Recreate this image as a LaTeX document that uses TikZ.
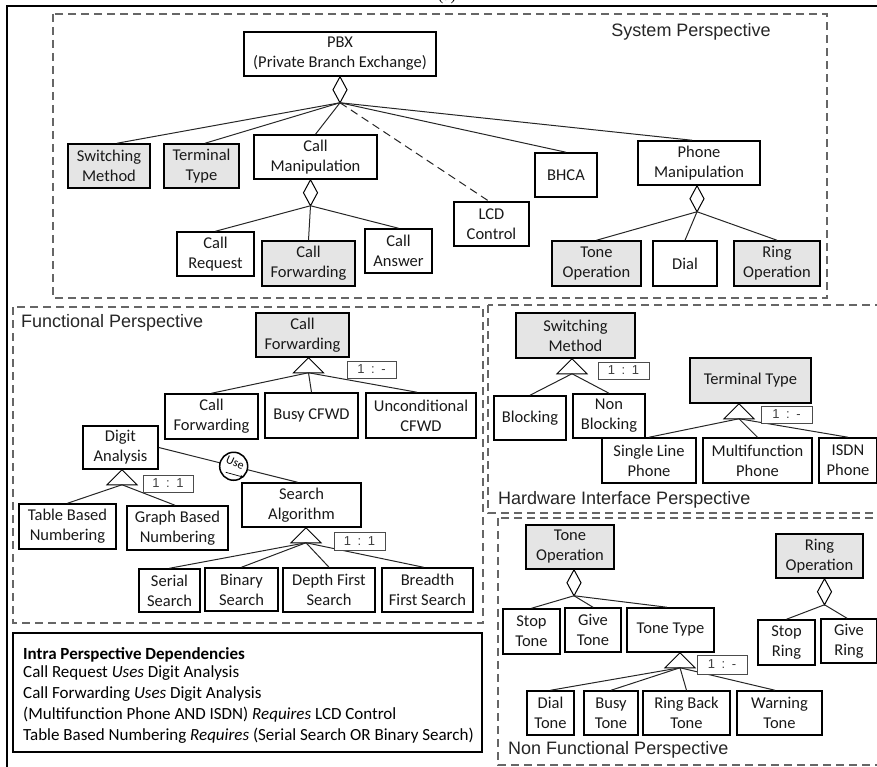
\documentclass[tikz,border=0pt]{standalone}
\usepackage{fontspec}
\newfontfamily\boxfont{Carlito}
\newfontfamily\headfont{Liberation Sans}
\newfontfamily\capfont{Liberation Serif}
\usetikzlibrary{arrows.meta,calc}

\tikzset{
  feat/.style={draw=black, line width=1.5pt, fill=white, align=center, inner sep=0pt,
    font=\boxfont\fontsize{16.5}{20}\selectfont, text=black!90},
  grayfeat/.style={feat, fill=black!10},
  link/.style={draw=black!85, line width=1pt},
  optlink/.style={link, dash pattern=on 8pt off 5pt},
  persp/.style={draw=black!60, line width=1.3pt, dash pattern=on 8pt off 5pt},
  perspname/.style={font=\headfont\fontsize{18}{20}\selectfont, text=black!85, inner sep=0pt},
  card/.style={draw=black!70, line width=1pt, fill=white, inner sep=0pt,
    font=\headfont\fontsize{13}{15}\selectfont, text=black!75},
  deptext/.style={font=\boxfont\fontsize{17}{20}\selectfont, inner sep=0pt, anchor=base west},
  agg/.pic={\draw[line width=1pt, fill=white] (0,0) -- (7,13) -- (0,26) -- (-7,13) -- cycle;
    \coordinate (-b) at (0,26);},
  alt/.pic={\draw[line width=1pt, fill=white] (0,0) -- (15,15) -- (-15,15) -- cycle;
    \coordinate (-b) at (0,15);},
}
\newcommand{\cardtext}[1]{1\hspace{6.5pt}:\hspace{6.5pt}#1}

\begin{document}
\begin{tikzpicture}[x=1pt, y=-1pt]
\useasboundingbox (0,0) rectangle (877,767);

% outer frame and caption
\node[font=\capfont\fontsize{16}{18}\selectfont, anchor=base, inner sep=0pt] (caption) at (447,1) {(a)};
\draw[line width=2pt] (6.5,790) -- (6.5,6.5) -- (900,6.5);

% perspective frames
\draw[persp] (53,14) rectangle (827,298);
\draw[persp] (13,307) rectangle (483,623);
\draw[persp] (488,305) rectangle (900,513);
\draw[persp] (498,518) rectangle (900,765);

\node[perspname] (sysname) at (691,32) {System Perspective};
\node[perspname, anchor=west] (funname) at (21,323) {Functional Perspective};
\node[perspname, anchor=west] (hwname) at (498,500) {Hardware Interface Perspective};
\node[perspname, anchor=west] (nfname) at (508,750) {Non Functional Perspective};

% ---------------- System perspective ----------------
\node[feat, minimum width=192pt, minimum height=44pt] (pbx) at (340,54) {PBX\\(Private Branch Exchange)};
\node[grayfeat, minimum width=82pt, minimum height=44pt] (swm) at (109,166) {Switching\\Method};
\node[grayfeat, minimum width=75pt, minimum height=44pt] (term) at (201.5,166) {Terminal\\Type};
\node[feat, minimum width=123pt, minimum height=44pt] (callm) at (315.5,157) {Call\\Manipulation};
\node[feat, minimum width=75pt, minimum height=44pt] (lcd) at (491.5,224) {LCD\\Control};
\node[feat, minimum width=62pt, minimum height=44pt] (bhca) at (566,175) {BHCA};
\node[feat, minimum width=122pt, minimum height=44pt] (phonem) at (699,163) {Phone\\Manipulation};
\node[feat, minimum width=77pt, minimum height=44pt] (creq) at (215.5,254) {Call\\Request};
\node[grayfeat, minimum width=93pt, minimum height=45pt] (cfwd) at (308.5,263.5) {Call\\Forwarding};
\node[feat, minimum width=67pt, minimum height=44pt] (cans) at (398.5,251) {Call\\Answer};
\node[grayfeat, minimum width=89pt, minimum height=45pt] (toneop) at (596.5,263.5) {Tone\\Operation};
\node[feat, minimum width=64pt, minimum height=45pt] (dial) at (685,263.5) {Dial};
\node[grayfeat, minimum width=86pt, minimum height=45pt] (ringop) at (777,263.5) {Ring\\Operation};

\pic (pbxA) at (pbx.south) {agg};
\pic (callmA) at ([xshift=-5pt]callm.south) {agg};
\pic (phonemA) at ([xshift=-2pt]phonem.south) {agg};

\draw[link] (pbxA-b) -- ([xshift=8pt]swm.north);
\draw[link] (pbxA-b) -- ([xshift=3.5pt]term.north);
\draw[link] (pbxA-b) -- (callm.north);
\draw[optlink] (pbxA-b) -- ([xshift=-2.5pt]lcd.north);
\draw[link] (pbxA-b) -- (bhca.north);
\draw[link] (pbxA-b) -- ([xshift=-7pt]phonem.north);
\draw[link] (callmA-b) -- (creq.north);
\draw[link] (callmA-b) -- (cfwd.north);
\draw[link] (callmA-b) -- (cans.north);
\draw[link] (phonemA-b) -- (toneop.north);
\draw[link] (phonemA-b) -- (dial.north);
\draw[link] (phonemA-b) -- (ringop.north);

% ---------------- Functional perspective ----------------
\node[grayfeat, minimum width=93pt, minimum height=44pt] (fcf) at (302.5,335) {Call\\Forwarding};
\node[feat, minimum width=93pt, minimum height=45pt] (fcf2) at (211.5,416.5) {Call\\Forwarding};
\node[feat, minimum width=93pt, minimum height=45pt] (busy) at (311.5,415.5) {Busy CFWD};
\node[feat, minimum width=110pt, minimum height=45pt] (uncond) at (421,415.5) {Unconditional\\CFWD};
\node[feat, minimum width=75pt, minimum height=43pt] (digit) at (120.5,447.5) {Digit\\Analysis};
\node[feat, minimum width=97pt, minimum height=45pt] (table) at (67.5,526.5) {Table Based\\Numbering};
\node[feat, minimum width=101pt, minimum height=44pt] (graph) at (177.5,528) {Graph Based\\Numbering};
\node[feat, minimum width=119pt, minimum height=44pt] (search) at (301.5,505) {Search\\Algorithm};
\node[feat, minimum width=61pt, minimum height=43pt] (serial) at (169.5,590.5) {Serial\\Search};
\node[feat, minimum width=73pt, minimum height=43pt] (binary) at (241.5,589.5) {Binary\\Search};
\node[feat, minimum width=92pt, minimum height=44pt] (depth) at (329,590) {Depth First\\Search};
\node[feat, minimum width=91pt, minimum height=44pt] (breadth) at (427.5,590) {Breadth\\First Search};

\pic (fcfG) at ([xshift=6pt]fcf.south) {alt};
\pic (digitG) at ([xshift=1.5pt]digit.south) {alt};
\pic (searchG) at ([xshift=4.5pt]search.south) {alt};

\draw[link] (fcfG-b) -- (fcf2.north);
\draw[link] (fcfG-b) -- (busy.north);
\draw[link] (fcfG-b) -- ([xshift=-4pt]uncond.north);
\draw[link] (digitG-b) -- (table.north);
\draw[link] (digitG-b) -- ([xshift=-2.5pt]graph.north);
\draw[link] (searchG-b) -- (serial.north);
\draw[link] (searchG-b) -- (binary.north);
\draw[link] (searchG-b) -- (depth.north);
\draw[link] (searchG-b) -- ([xshift=-4pt]breadth.north);

% "Use" dependency between Digit Analysis and Search Algorithm
\draw[link] (digit.east) -- ([xshift=-4pt]search.north)
  node[pos=0.54, circle, draw=black, line width=1.5pt, fill=white, minimum size=28pt, inner sep=0pt] (usecirc) {};
\node[rotate=-24, inner sep=0pt, font=\boxfont\fontsize{12}{12}\selectfont] (usetext)
  at ([shift={(1.5,-3.5)}]usecirc.center) {Use};
\draw[line width=0.7pt, -{Stealth[length=3.5pt,width=3pt]}]
  ([shift={(-8,6)}]usecirc.center) -- ([shift={(10,11)}]usecirc.center);

\node[card, minimum width=49pt, minimum height=17pt] (card1) at (371.5,369.5) {\cardtext{-}};
\node[card, minimum width=50pt, minimum height=17pt] (card2) at (168,483.5) {\cardtext{1}};
\node[card, minimum width=51pt, minimum height=18pt] (card3) at (359.5,541) {\cardtext{1}};

% ---------------- Hardware interface perspective ----------------
\node[grayfeat, minimum width=119pt, minimum height=45pt] (hswm) at (575.5,335.5) {Switching\\Method};
\node[feat, minimum width=72pt, minimum height=44pt] (blocking) at (530,418) {Blocking};
\node[feat, minimum width=72pt, minimum height=44pt] (nonblock) at (609,416) {Non\\Blocking};
\node[grayfeat, minimum width=121pt, minimum height=45pt] (hterm) at (750.5,380.5) {Terminal Type};
\node[feat, minimum width=94pt, minimum height=45pt] (single) at (649,460.5) {Single Line\\Phone};
\node[feat, minimum width=109pt, minimum height=45pt] (multi) at (757.5,460.5) {Multifunction\\Phone};
\node[feat, minimum width=58pt, minimum height=45pt] (isdn) at (848,460.5) {ISDN\\Phone};

\pic (hswmG) at ([xshift=-3.5pt]hswm.south) {alt};
\pic (htermG) at ([xshift=-11.5pt]hterm.south) {alt};

\draw[link] (hswmG-b) -- (blocking.north);
\draw[link] (hswmG-b) -- (nonblock.north);
\draw[link] (htermG-b) -- (single.north);
\draw[link] (htermG-b) -- (multi.north);
\draw[link] (htermG-b) -- (isdn.north);

\node[card, minimum width=51pt, minimum height=17pt] (card4) at (623.5,370.5) {\cardtext{1}};
\node[card, minimum width=51pt, minimum height=17pt] (card5) at (786.5,414.5) {\cardtext{-}};

% ---------------- Non functional perspective ----------------
\node[grayfeat, minimum width=88pt, minimum height=44pt] (toneop2) at (570,547) {Tone\\Operation};
\node[feat, minimum width=57pt, minimum height=45pt] (stoptone) at (531.5,631.5) {Stop\\Tone};
\node[feat, minimum width=56pt, minimum height=44pt] (givetone) at (593,630) {Give\\Tone};
\node[feat, minimum width=87pt, minimum height=44pt] (tonetype) at (670.5,630) {Tone Type};
\node[feat, minimum width=47pt, minimum height=44pt] (dialtone) at (550.5,713) {Dial\\Tone};
\node[feat, minimum width=54pt, minimum height=44pt] (busytone) at (611,713) {Busy\\Tone};
\node[feat, minimum width=87pt, minimum height=44pt] (ringback) at (686.5,713) {Ring Back\\Tone};
\node[feat, minimum width=85pt, minimum height=44pt] (warning) at (779.5,713) {Warning\\Tone};
\node[grayfeat, minimum width=87pt, minimum height=44pt] (ringop2) at (819.5,556) {Ring\\Operation};
\node[feat, minimum width=57pt, minimum height=45pt] (stopring) at (786.5,642.5) {Stop\\Ring};
\node[feat, minimum width=56pt, minimum height=44pt] (givering) at (849,641) {Give\\Ring};

\pic (toneopA) at ([xshift=4pt]toneop2.south) {agg};
\pic (ringopA) at ([xshift=5pt]ringop2.south) {agg};
\pic (tonetypeG) at ([xshift=9.5pt]tonetype.south) {alt};

\draw[link] (toneopA-b) -- (stoptone.north);
\draw[link] (toneopA-b) -- (givetone.north);
\draw[link] (toneopA-b) -- ([xshift=-3.5pt]tonetype.north);
\draw[link] (tonetypeG-b) -- (dialtone.north);
\draw[link] (tonetypeG-b) -- (busytone.north);
\draw[link] (tonetypeG-b) -- (ringback.north);
\draw[link] (tonetypeG-b) -- ([xshift=-4.5pt]warning.north);
\draw[link] (ringopA-b) -- (stopring.north);
\draw[link] (ringopA-b) -- ([xshift=-2pt]givering.north);

\node[card, minimum width=50pt, minimum height=19pt] (card6) at (722,664.5) {\cardtext{-}};

% ---------------- Intra perspective dependencies ----------------
\node[draw=black, line width=1.5pt, minimum width=469pt, minimum height=119pt, inner sep=0pt] (deps) at (247.5,692.5) {};
\node[deptext] (dep0) at (23,659) {\bfseries Intra Perspective Dependencies};
\node[deptext] (dep1) at (23,677) {Call Request \textit{Uses} Digit Analysis};
\node[deptext] (dep2) at (23,698) {Call Forwarding \textit{Uses} Digit Analysis};
\node[deptext] (dep3) at (23,719) {(Multifunction Phone AND ISDN) \textit{Requires} LCD Control};
\node[deptext] (dep4) at (23,740) {Table Based Numbering \textit{Requires} (Serial Search OR Binary Search)};

\end{tikzpicture}
\end{document}
